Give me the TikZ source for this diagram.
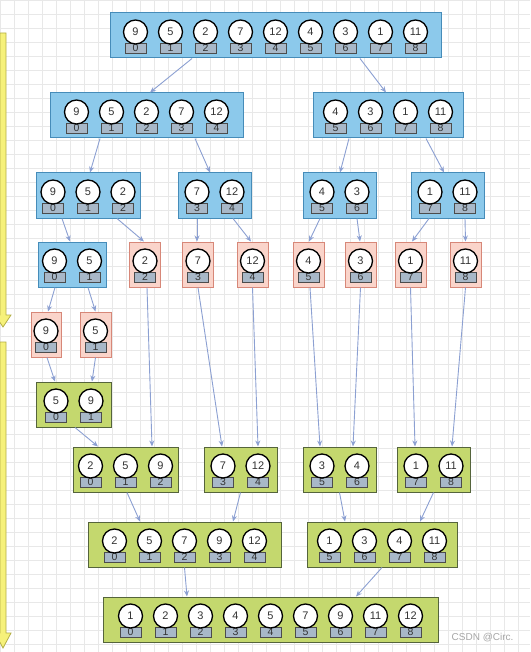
\documentclass[tikz,border=0pt]{standalone}
\usepackage{fontspec}
\setmainfont{Liberation Sans}
\usepackage{tikz}
\usetikzlibrary{arrows.meta}
\definecolor{splitblue}{RGB}{140,201,235}
\definecolor{splitedge}{RGB}{70,140,185}
\definecolor{leafred}{RGB}{250,212,202}
\definecolor{leafedge}{RGB}{215,135,120}
\definecolor{mergegreen}{RGB}{196,216,110}
\definecolor{mergeedge}{RGB}{85,100,60}
\definecolor{idxgray}{RGB}{168,184,200}
\definecolor{linkblue}{RGB}{140,160,210}
\definecolor{gridgray}{RGB}{232,232,232}
\definecolor{markyellow}{RGB}{246,241,122}
\definecolor{markedge}{RGB}{180,175,70}

\tikzset{
  cell/.style={circle, draw=black, line width=1.3pt, fill=white, minimum size=24pt,
    inner sep=0pt, font=\fontsize{11}{12}\selectfont, text=black!80},
  idx/.style={rectangle, draw=black!70, line width=0.8pt, fill=idxgray, minimum width=21pt,
    minimum height=10pt, inner sep=0pt, font=\fontsize{10.5}{10}\selectfont, text=black!80},
  stagebox/.style={rectangle, line width=1pt, minimum height=45pt, inner sep=0pt},
  split/.style={stagebox, draw=splitedge, fill=splitblue},
  leaf/.style={stagebox, draw=leafedge, fill=leafred},
  merge/.style={stagebox, draw=mergeedge, fill=mergegreen},
  link/.style={draw=linkblue, line width=0.9pt, -{Stealth[length=6pt,width=5pt]}}
}

% name, style, centre x, top y, width, count, value/index list
\newcommand{\stage}[7]{%
  \node[#2, minimum width=#5pt] (#1) at (#3, #4+22.5) {};
  \foreach \v/\i [count=\k from 0] in {#7} {
    \node[idx] (#1-i\k) at ({#3+(\k-(#6-1)/2)*35}, #4+35) {\i};
    \node[cell] (#1-c\k) at ({#3+(\k-(#6-1)/2)*35}, #4+19) {\v};
  }%
}

\begin{document}
\begin{tikzpicture}[x=1pt, y=-1pt]
\useasboundingbox (0,0) rectangle (530,652);
\fill[white] (0,0) rectangle (530,652);
\draw[gridgray, line width=0.6pt, step=14pt] (0,0) grid (530,652);

% yellow side arrows
\draw[markedge, fill=markyellow, line width=0.8pt] (0,33) -- (6,33) -- (6,315) -- (11,315)
  -- (3,327) -- (-5,315) -- (0,315) -- cycle;
\draw[markedge, fill=markyellow, line width=0.8pt] (0,342) -- (6,342) -- (6,633) -- (11,633)
  -- (3,648) -- (-5,633) -- (0,633) -- cycle;

% splitting
\stage{s0}{split}{275.5}{13}{331}{9}{9/0,5/1,2/2,7/3,12/4,4/5,3/6,1/7,11/8}
\stage{s1a}{split}{146.5}{93}{193}{5}{9/0,5/1,2/2,7/3,12/4}
\stage{s1b}{split}{388}{93}{150}{4}{4/5,3/6,1/7,11/8}
\stage{s2a}{split}{88}{173}{104}{3}{9/0,5/1,2/2}
\stage{s2b}{split}{214.5}{173}{73}{2}{7/3,12/4}
\stage{s2c}{split}{339.5}{173}{73}{2}{4/5,3/6}
\stage{s2d}{split}{447.5}{173}{73}{2}{1/7,11/8}
\stage{s3a}{split}{72}{242}{68}{2}{9/0,5/1}
\stage{lf2}{leaf}{145}{242}{31}{1}{2/2}
\stage{lf7}{leaf}{198}{242}{31}{1}{7/3}
\stage{lf12}{leaf}{252.5}{242}{31}{1}{12/4}
\stage{lf4}{leaf}{308.5}{242}{31}{1}{4/5}
\stage{lf3}{leaf}{360.5}{242}{31}{1}{3/6}
\stage{lf1}{leaf}{410.5}{242}{31}{1}{1/7}
\stage{lf11}{leaf}{465.5}{242}{31}{1}{11/8}
\stage{lf9}{leaf}{46}{312}{30}{1}{9/0}
\stage{lf5}{leaf}{95.5}{312}{31}{1}{5/1}

% merging
\stage{m1}{merge}{73.5}{382}{75}{2}{5/0,9/1}
\stage{m2a}{merge}{125.5}{447}{105}{3}{2/0,5/1,9/2}
\stage{m2b}{merge}{240.5}{447}{73}{2}{7/3,12/4}
\stage{m2c}{merge}{339.5}{447}{73}{2}{3/5,4/6}
\stage{m2d}{merge}{433.5}{447}{73}{2}{1/7,11/8}
\stage{m3a}{merge}{184.5}{522}{193}{5}{2/0,5/1,7/2,9/3,12/4}
\stage{m3b}{merge}{382}{522}{150}{4}{1/5,3/6,4/7,11/8}
\stage{m4}{merge}{270.5}{597}{335}{9}{1/0,2/1,3/2,4/3,5/4,7/5,9/6,11/7,12/8}

% connectors
\foreach \a/\sa/\b/\sb in {s0/-83.5/s1a/3.5, s0/84.5/s1b/-2,
    s1a/-46.5/s2a/2, s1a/48.5/s2b/-4.5, s1b/-39/s2c/0.5, s1b/38/s2d/-3.5,
    s2a/-26/s3a/-2, s2a/29/lf2/-1, s2b/-17.5/lf7/-1, s2b/18.5/lf12/-1.5,
    s2c/-19.5/lf4/0.5, s2c/17.5/lf3/-0.5, s2d/-18.5/lf1/1.5, s2d/17.5/lf11/0,
    s3a/-17/lf9/2, s3a/16/lf5/0,
    lf9/1/m1/-18.5, lf5/0/m1/18.5, m1/1.5/m2a/-27.5, lf2/2/m2a/26.5,
    lf7/0/m2b/-18.5, lf12/0/m2b/17.5, lf4/1.5/m2c/-19.5, lf3/0/m2c/13.5,
    lf1/0/m2d/-18.5, lf11/0/m2d/18.5,
    m2a/1.5/m3a/-44.5, m2b/0/m3a/48.5, m2c/0/m3b/-37, m2d/0/m3b/38,
    m3a/0/m4/-83.5, m3b/0/m4/85.5}
  \draw[link] ([xshift=\sa pt]\a.south) -- ([xshift=\sb pt]\b.north);

\node[text=black!35, font=\fontsize{10}{11}\selectfont, anchor=east] (mark) at (517,638) {CSDN @Circ.};
\end{tikzpicture}
\end{document}
